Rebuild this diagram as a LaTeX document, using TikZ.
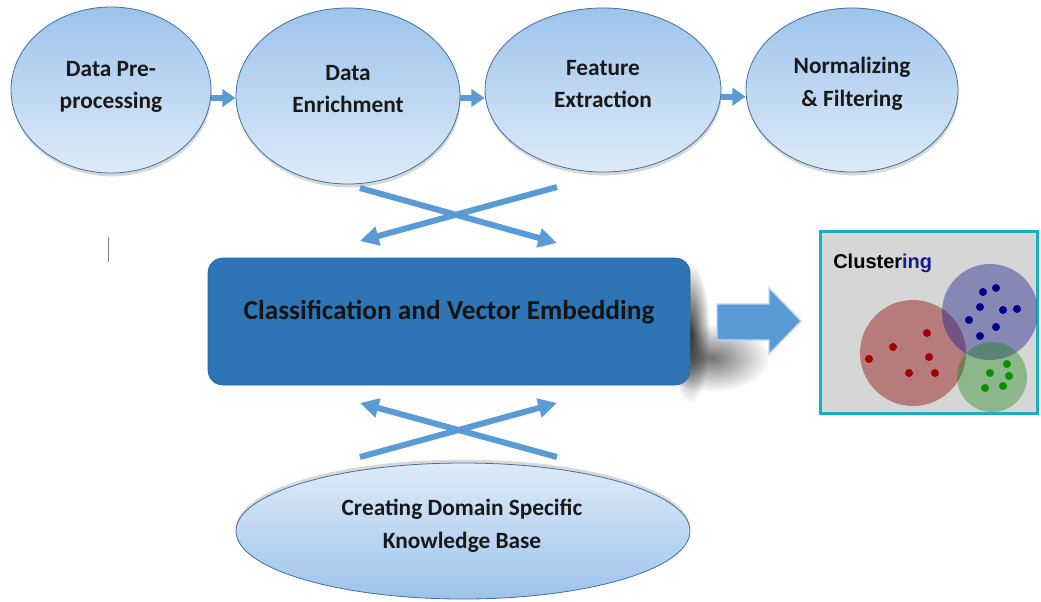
\documentclass[tikz,border=0pt]{standalone}
\usepackage{fontspec}
\setmainfont{Carlito}
\newfontfamily\arialfont{Liberation Sans}
\usetikzlibrary{shapes.geometric,arrows.meta,shadows,fadings}
\definecolor{arrowblue}{HTML}{5B9BD5}
\definecolor{arrowlight}{HTML}{BDD7EE}
\definecolor{ellTop}{HTML}{9DC3EC}
\definecolor{ellBot}{HTML}{DEEBF8}
\definecolor{ellLine}{HTML}{41719C}
\definecolor{boxBlue}{HTML}{2E75B6}
\definecolor{clusterLine}{HTML}{1AAEBF}
\definecolor{clusterFill}{HTML}{D6D6D6}
\definecolor{ingBlue}{HTML}{1A1A8C}
\definecolor{redC}{HTML}{8B0000}
\definecolor{blueC}{HTML}{1A1A8C}
\definecolor{greenC}{HTML}{008000}
\definecolor{redDot}{HTML}{A00000}
\definecolor{blueDot}{HTML}{00008B}
\definecolor{greenDot}{HTML}{009000}
\tikzfading[name=softblob, inner color=transparent!0, outer color=transparent!100]
\begin{document}
\begin{tikzpicture}[x=0.75pt,y=-0.75pt,
  ell/.style={ellipse, draw=ellLine, line width=0.6pt, top color=ellTop, bottom color=ellBot, inner sep=0pt,
    drop shadow={shadow xshift=0.5pt, shadow yshift=-2.5pt, opacity=0.3}},
  ellup/.style={ellipse, draw=ellLine, line width=0.6pt, top color=ellBot, bottom color=ellTop, inner sep=0pt,
    drop shadow={shadow xshift=0pt, shadow yshift=2.5pt, opacity=0.3}},
  lbl/.style={font=\bfseries\fontsize{17.5}{24.5}\selectfont, align=center, text=black!90, inner sep=0pt},
  smallarr/.style={draw=arrowblue, line width=4.5pt, -{Triangle[length=10pt,width=13pt]}},
  crossarr/.style={draw=arrowblue, line width=4.5pt, -{Triangle[length=14pt,width=14pt]}},
  dotR/.style={fill=redDot},
  dotB/.style={fill=blueDot},
  dotG/.style={fill=greenDot}]
\useasboundingbox (0,0) rectangle (1041,601);
\fill[white] (0,0) rectangle (1041,601);

% top ellipses
\node[ell, minimum width=150pt, minimum height=124.5pt] (e1) at (111,90) {};
\node[lbl] (t1) at (111,87) {Data Pre-\\processing};
\node[ell, minimum width=168pt, minimum height=132pt] (e2) at (348,96) {};
\node[lbl] (t2) at (348,89) {Data\\Enrichment};
\node[ell, minimum width=177pt, minimum height=123pt] (e3) at (603,90) {};
\node[lbl] (t3) at (603,84) {Feature\\Extraction};
\node[ell, minimum width=159pt, minimum height=123pt] (e4) at (852,90) {};
\node[lbl] (t4) at (852,84) {Normalizing\\\& Filtering};

\draw[smallarr] ([yshift=-6pt]e1.east) -- ([yshift=-1.5pt]e2.west);
\draw[smallarr] ([yshift=-1.5pt]e2.east) -- ([yshift=-6pt]e3.west);
\draw[smallarr] ([yshift=-5pt]e3.east) -- ([yshift=-5pt]e4.west);

% cursor mark
\draw[gray, line width=0.75pt] (108,237) -- (108,262);

% crossing arrows (top)
\coordinate (xa1) at (360,188); \coordinate (xa2) at (557,243);
\coordinate (xb1) at (557,187); \coordinate (xb2) at (360,241);
\draw[crossarr] (xa1) -- (xa2);
\draw[crossarr] (xb1) -- (xb2);

% soft shadow of central box
\fill[black, opacity=0.8, path fading=softblob] (690,333) ellipse [x radius=20, y radius=70];
\fill[black, opacity=0.55, path fading=softblob] (712,358) ellipse [x radius=58, y radius=34];

% central box
\node[fill=boxBlue, draw=boxBlue!85!black, line width=0.4pt, rounded corners=11pt,
  minimum width=361.5pt, minimum height=95.25pt] (cve) at (449,321.5) {};
\node[font=\bfseries\fontsize{20.5}{24}\selectfont, text=black!92, inner sep=0pt] (cvet) at (449,312) {Classification and Vector Embedding};

% block arrow
\filldraw[fill=arrowblue, draw=arrowlight, line width=1pt, line join=miter]
  (717,304) -- (769,304) -- (769,288) -- (801,321) -- (769,354) -- (769,340) -- (717,340) -- cycle;

% clustering box
\node[draw=clusterLine, line width=2.25pt, fill=clusterFill, minimum width=162.75pt, minimum height=136.5pt, inner sep=0pt] (clbox) at (929,322.5) {};
\begin{scope}
\clip (821,232) rectangle (1036.5,412.5);
\fill[redC, opacity=0.42] (913,353) circle [radius=53];
\fill[blueC, opacity=0.42] (990,312) circle [radius=48];
\fill[greenC, opacity=0.35] (992,377) circle [radius=35];
\end{scope}
\foreach \p in {(869,359),(893,347),(927,333),(929,357),(909,373),(935,373)}
  \fill[dotR] \p circle [radius=4];
\foreach \p in {(983,292),(996,288),(980,307),(1003,310),(1017,309),(969,320),(996,327),(980,336)}
  \fill[dotB] \p circle [radius=4];
\foreach \p in {(990,373),(1007,364),(1009,376),(985,388),(1003,386)}
  \fill[dotG] \p circle [radius=4];
\node[anchor=base west, inner sep=0pt, font=\arialfont\bfseries\fontsize{15}{18}\selectfont] (cltext) at (833,268) {Cluster\textcolor{ingBlue}{ing}};

% crossing arrows (bottom)
\coordinate (ya1) at (360,457); \coordinate (ya2) at (557,403);
\coordinate (yb1) at (557,457); \coordinate (yb2) at (360,403);
\draw[crossarr] (ya1) -- (ya2);
\draw[crossarr] (yb1) -- (yb2);

% bottom ellipse
\node[ellup, minimum width=340.5pt, minimum height=102pt] (kb) at (463,531) {};
\node[lbl] (kbt) at (462,526) {Creating Domain Specific\\Knowledge Base};
\end{tikzpicture}
\end{document}
